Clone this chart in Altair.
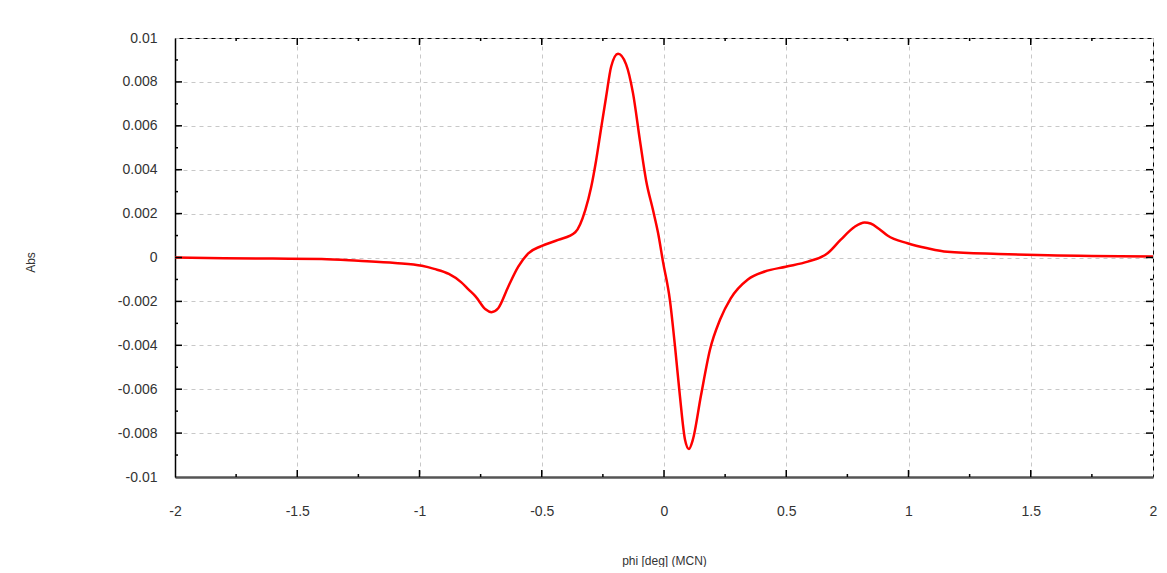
import altair as alt
import pandas as pd

# curve
phi = [-2.0, -1.8, -1.6, -1.4, -1.25, -1.1, -0.99, -0.94, -0.88, -0.83, -0.8, -0.77, -0.73, -0.706,
       -0.678, -0.637, -0.596, -0.555, -0.502, -0.433, -0.363, -0.322, -0.298, -0.278,
       -0.257, -0.237, -0.216, -0.188, -0.155, -0.127, -0.098, -0.073, -0.045, -0.024,
       -0.004, 0.024, 0.045, 0.065, 0.086, 0.102, 0.118, 0.151, 0.188, 0.229, 0.273,
       0.343, 0.412, 0.498, 0.588, 0.669, 0.722, 0.78, 0.82, 0.845, 0.88, 0.914, 0.996,
       1.078, 1.159, 1.367, 1.57, 2.0]
absv = [0.0, -0.00003, -0.00005, -0.00007, -0.00015, -0.00025, -0.00038, -0.00052, -0.00075,
        -0.00112, -0.00145, -0.00178, -0.00236, -0.00249, -0.00231, -0.00133, -0.00042, 0.00019,
        0.00052, 0.0008, 0.00115, 0.00216, 0.0032, 0.0044, 0.0059, 0.0073, 0.0087,
        0.00928, 0.0088, 0.0075, 0.0053, 0.0035, 0.00216, 0.0011, -0.0002, -0.00193,
        -0.00405, -0.0063, -0.0083, -0.00872, -0.0083, -0.0063, -0.0042, -0.00284,
        -0.00186, -0.001, -0.00064, -0.00042, -0.00019, 0.00019, 0.0008, 0.0014,
        0.0016, 0.00155, 0.0013, 0.001, 0.00065, 0.00042, 0.00026, 0.00016, 0.0001, 0.00005]

x_major = [-2, -1.5, -1, -0.5, 0, 0.5, 1, 1.5, 2]
x_minor = [-1.75, -1.25, -0.75, -0.25, 0.25, 0.75, 1.25, 1.75]
y_major = [-0.01, -0.008, -0.006, -0.004, -0.002, 0, 0.002, 0.004, 0.006, 0.008, 0.01]
y_minor = [-0.009, -0.007, -0.005, -0.003, -0.001, 0.001, 0.003, 0.005, 0.007, 0.009]

W, H = 978, 439
FONT = "Liberation Sans"

curve = pd.DataFrame({"phi": phi, "abs": absv})
xs = alt.Scale(domain=[-2, 2], nice=False, zero=False)
ys = alt.Scale(domain=[-0.01, 0.01], nice=False, zero=False)

xaxis = alt.Axis(values=x_major, grid=True, gridColor="#c8c8c8", gridDash=[4, 4],
                 gridWidth=1, ticks=False, tickSize=0, domain=True, domainColor="#555555",
                 domainWidth=2.5, labelPadding=27, labelFont=FONT, labelFontSize=14,
                 labelColor="#333333", labelExpr="replace(format(datum.value, '~g'), '\u2212', '-')",
                 title="phi [deg] (MCN)", titleFont=FONT, titleFontSize=12,
                 titleFontWeight="normal", titleColor="#333333", titleY=83,
                 titleBaseline="middle", labelFlush=False)
yaxis = alt.Axis(values=y_major, grid=True, gridColor="#c8c8c8", gridDash=[4, 4],
                 gridWidth=1, ticks=False, tickSize=0, domain=True, domainColor="#000000",
                 domainWidth=1.5, labelPadding=18, labelFont=FONT, labelFontSize=14,
                 labelColor="#333333", labelExpr="replace(format(datum.value, '~g'), '\u2212', '-')",
                 title="Abs", titleFont=FONT, titleFontSize=12, titleFontWeight="normal",
                 titleColor="#333333", titleX=-145, titleY=224, titleAlign="center",
                 titleBaseline="middle", titleAngle=270, labelFlush=False)

line = alt.Chart(curve).mark_line(color="#ff0000", strokeWidth=2.5, interpolate="monotone").encode(
    x=alt.X("phi:Q", scale=xs, axis=xaxis),
    y=alt.Y("abs:Q", scale=ys, axis=yaxis),
)

xt = pd.DataFrame({"v": x_major[1:-1] + x_minor,
                   "len": [7] * (len(x_major) - 2) + [3] * len(x_minor)})
yt = pd.DataFrame({"v": y_major[1:-1] + y_minor,
                   "len": [7] * (len(y_major) - 2) + [3] * len(y_minor)})

def xticks(bottom):
    base = alt.Chart(xt).transform_calculate(
        y0=str(H) if bottom else "0",
        y1=(f"{H} - datum.len") if bottom else "datum.len")
    return base.mark_rule(color="#000000", strokeWidth=1.5).encode(
        x=alt.X("v:Q", scale=xs), y=alt.Y("y0:Q", scale=None), y2="y1:Q")

def yticks(right):
    base = alt.Chart(yt).transform_calculate(
        x0=str(W) if right else "0",
        x1=(f"{W} - datum.len") if right else "datum.len")
    return base.mark_rule(color="#000000", strokeWidth=1.5).encode(
        y=alt.Y("v:Q", scale=ys), x=alt.X("x0:Q", scale=None), x2="x1:Q")

chart = alt.layer(line, xticks(False), xticks(True), yticks(False), yticks(True)).properties(
    width=W, height=H,
    autosize=alt.AutoSizeParams(type="none"),
    padding={"left": 167, "top": 30, "right": 6, "bottom": 90},
    background="#ffffff",
).configure_view(stroke="#000000", strokeWidth=1)

chart.save("out.html", embed_options={"renderer": "svg", "actions": False})
